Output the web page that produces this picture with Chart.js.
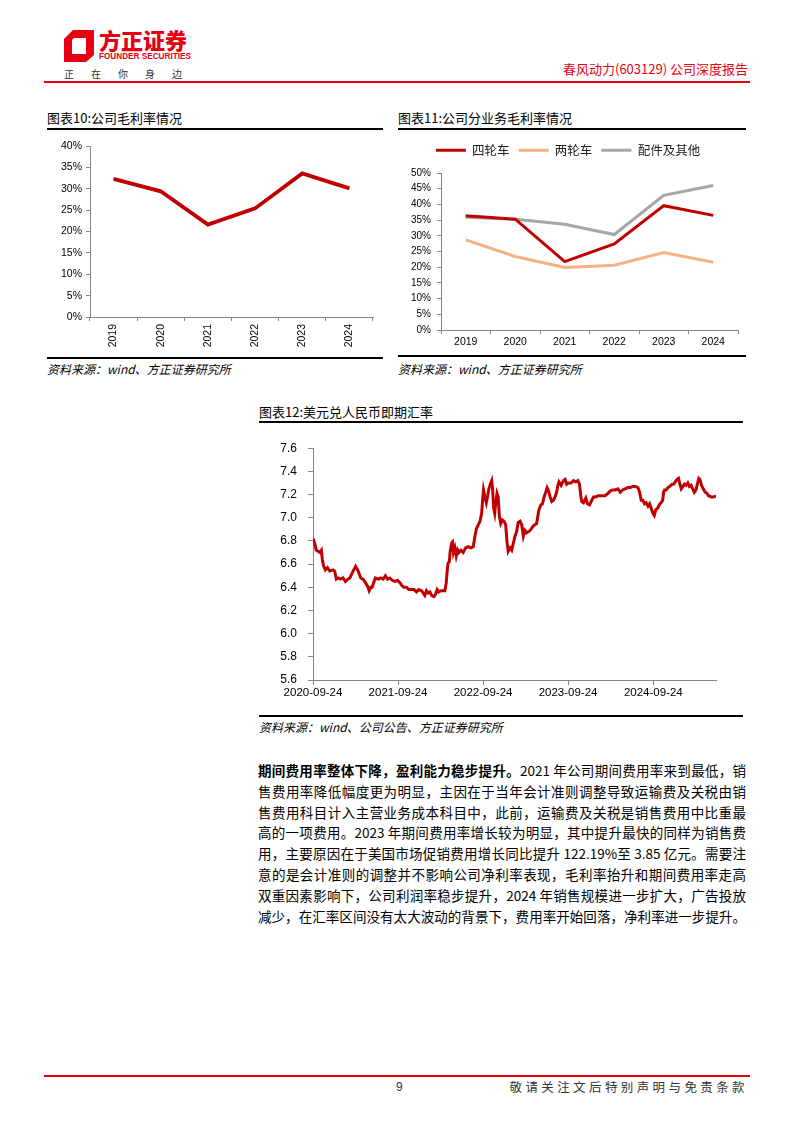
<!DOCTYPE html>
<html>
<head>
<meta charset="utf-8">
<script src="https://cdn.jsdelivr.net/npm/chart.js@4.4.1/dist/chart.umd.min.js"></script>
<style>
  body { margin: 0; background: #fff; }
  #page { position: relative; width: 794px; height: 1123px; overflow: hidden; font-family: "Noto Sans CJK SC", sans-serif; color: #000; }
  .abs { position: absolute; }
  .title { font-size: 13px; line-height: 18px; white-space: nowrap; }
  .rule { height: 2px; background: #000; }
  .src { font-size: 12px; line-height: 16px; font-style: italic; white-space: nowrap; }
  .para div { height: 20.8px; line-height: 20.8px; font-size: 13.5px; text-align: justify; text-align-last: justify; white-space: nowrap; }
</style>
</head>
<body>
<div id="page">
  <!-- header -->
  <svg class="abs" style="left:64px;top:30px" width="30" height="32" viewBox="0 0 30 32">
    <polygon points="9,0 30,0 30,25 22,32 0,32 0,9" fill="#e60012"/>
    <polygon points="10,8 22,8 22,24 8,24 8,10" fill="#fff"/>
  </svg>
  <div class="abs" style="left:99px;top:27px;font-size:22px;line-height:24px;font-weight:900;color:#e60012;letter-spacing:0px">方正证券</div>
  <div class="abs" style="left:99px;top:52px;font-family:'Liberation Sans';font-size:8.2px;line-height:10px;font-weight:bold;color:#e60012">FOUNDER SECURITIES</div>
  <div class="abs" style="left:64px;top:67px;font-size:10px;line-height:14px;color:#333;letter-spacing:17px;white-space:nowrap">正在你身边</div>
  <div class="abs" style="left:555px;top:61px;width:193px;text-align:right;font-size:13px;line-height:16px;color:#e60012;white-space:nowrap">春风动力(603129) 公司深度报告</div>
  <div class="abs" style="left:44px;top:81px;width:706px;height:1.5px;background:#e60012"></div>

  <!-- chart 10 -->
  <div class="abs title" style="left:47px;top:109px">图表10:公司毛利率情况</div>
  <div class="abs rule" style="left:47px;top:128px;width:336px"></div>
  <div class="abs" style="left:47px;top:135px"><canvas id="marginChart" width="336" height="220"></canvas></div>
  <div class="abs rule" style="left:47px;top:357px;width:336px"></div>
  <div class="abs src" style="left:47px;top:361px">资料来源：wind、方正证券研究所</div>

  <!-- chart 11 -->
  <div class="abs title" style="left:398px;top:109px">图表11:公司分业务毛利率情况</div>
  <div class="abs rule" style="left:398px;top:128px;width:348px"></div>
  <div class="abs" style="left:398px;top:135px"><canvas id="segmentChart" width="348" height="215"></canvas></div>
  <div class="abs rule" style="left:398px;top:355px;width:348px"></div>
  <div class="abs src" style="left:398px;top:361px">资料来源：wind、方正证券研究所</div>

  <!-- chart 12 -->
  <div class="abs title" style="left:259px;top:403px">图表12:美元兑人民币即期汇率</div>
  <div class="abs rule" style="left:259px;top:421px;width:484px"></div>
  <div class="abs" style="left:259px;top:430px"><canvas id="fxChart" width="484" height="282"></canvas></div>
  <div class="abs rule" style="left:259px;top:715px;width:484px"></div>
  <div class="abs src" style="left:259px;top:719px">资料来源：wind、公司公告、方正证券研究所</div>

  <!-- body text -->
  <div class="abs para" style="left:258px;top:760px;width:488px">
    <div><b>期间费用率整体下降，盈利能力稳步提升。</b>2021 年公司期间费用率来到最低，销</div>
    <div>售费用率降低幅度更为明显，主因在于当年会计准则调整导致运输费及关税由销</div>
    <div>售费用科目计入主营业务成本科目中，此前，运输费及关税是销售费用中比重最</div>
    <div>高的一项费用。2023 年期间费用率增长较为明显，其中提升最快的同样为销售费</div>
    <div>用，主要原因在于美国市场促销费用增长同比提升 122.19%至 3.85 亿元。需要注</div>
    <div>意的是会计准则的调整并不影响公司净利率表现，毛利率抬升和期间费用率走高</div>
    <div>双重因素影响下，公司利润率稳步提升，2024 年销售规模进一步扩大，广告投放</div>
    <div>减少，在汇率区间没有太大波动的背景下，费用率开始回落，净利率进一步提升。</div>
  </div>

  <!-- footer -->
  <div class="abs" style="left:44px;top:1075px;width:706px;height:1.5px;background:#e60012"></div>
  <div class="abs" style="left:396px;top:1079px;font-family:'Liberation Sans';font-size:12px;line-height:16px;color:#333">9</div>
  <div class="abs" style="left:500px;top:1079px;width:248px;text-align:right;font-size:12.5px;line-height:16px;color:#333;letter-spacing:3.4px;margin-right:-3.4px;white-space:nowrap">敬请关注文后特别声明与免责条款</div>
</div>

<script>
// chart data
const years = ['2019', '2020', '2021', '2022', '2023', '2024'];
const grossMargin = [32.3, 29.4, 21.6, 25.4, 33.6, 30.1];

const segmentNames = ['四轮车', '两轮车', '配件及其他'];
const fourWheel = [36.4, 35.3, 21.8, 27.4, 39.6, 36.5];
const twoWheel = [28.7, 23.4, 19.9, 20.6, 24.7, 21.6];
const partsOther = [35.9, 35.3, 33.7, 30.4, 42.9, 46.0];

// USD/CNY spot, days counted from 2020-09-24
const fxStart = Date.UTC(2020, 8, 24);
const fxTickDays = [0, 365, 730, 1095, 1461];
const fxDays = [0, 7, 14, 22, 29, 36, 40, 46, 53, 62, 72, 86, 93, 100, 108, 119, 129, 139, 150, 158,
  165, 175, 183, 194, 205, 215, 225, 234, 241, 248, 254, 262, 268, 280, 291, 301, 311, 320, 330, 340,
  351, 363, 373, 380, 390, 401, 411, 423, 434, 444, 454, 466, 473, 480, 487, 494, 502, 509, 519, 526,
  533, 540, 549, 559, 566, 572, 576, 580, 585, 589, 595, 599, 603, 609, 615, 621, 626, 635, 645, 655,
  666, 678, 688, 695, 702, 710, 717, 724, 728, 732, 738, 744, 750, 755, 761, 767, 771, 775, 780, 784,
  790, 795, 800, 806, 813, 820, 827, 833, 838, 846, 853, 860, 867, 874, 881, 889, 896, 903, 910, 917,
  924, 932, 939, 946, 953, 960, 965, 970, 978, 985, 992, 999, 1005, 1010, 1018, 1025, 1032, 1039, 1046, 1051,
  1056, 1065, 1075, 1082, 1089, 1096, 1108, 1118, 1128, 1137, 1144, 1150, 1154, 1161, 1171, 1178, 1187, 1194, 1204, 1214,
  1225, 1240, 1254, 1266, 1276, 1286, 1297, 1309, 1319, 1329, 1340, 1352, 1362, 1372, 1383, 1395, 1402, 1409, 1416, 1423,
  1430, 1438, 1445, 1452, 1459, 1465, 1472, 1479, 1486, 1494, 1501, 1505, 1509, 1516, 1524, 1531, 1541, 1548, 1555, 1562,
  1569, 1575, 1581, 1588, 1595, 1602, 1609, 1616, 1623, 1630, 1637, 1644, 1650, 1656, 1661, 1668, 1675, 1684, 1691, 1698,
  1710, 1720, 1730];
const fxRate = [6.82, 6.78, 6.72, 6.71, 6.70, 6.72, 6.64, 6.58, 6.55, 6.57, 6.54, 6.55, 6.54, 6.47, 6.48, 6.47, 6.48, 6.45, 6.47, 6.48,
  6.51, 6.55, 6.58, 6.54, 6.48, 6.47, 6.44, 6.41, 6.37, 6.40, 6.40, 6.45, 6.48, 6.47, 6.48, 6.47, 6.50, 6.47, 6.48, 6.46,
  6.45, 6.46, 6.44, 6.42, 6.40, 6.40, 6.38, 6.38, 6.38, 6.36, 6.38, 6.37, 6.35, 6.33, 6.37, 6.35, 6.36, 6.33, 6.32, 6.34,
  6.38, 6.36, 6.37, 6.37, 6.37, 6.44, 6.54, 6.61, 6.62, 6.71, 6.78, 6.79, 6.70, 6.74, 6.67, 6.72, 6.70, 6.72, 6.70, 6.74,
  6.75, 6.74, 6.75, 6.84, 6.91, 6.94, 6.97, 7.04, 7.15, 7.24, 7.18, 7.13, 7.19, 7.25, 7.29, 7.32, 7.25, 7.09, 7.04, 7.12,
  7.21, 7.18, 7.01, 6.95, 6.98, 6.97, 6.94, 6.79, 6.71, 6.74, 6.72, 6.78, 6.84, 6.88, 6.96, 6.97, 6.94, 6.84, 6.89, 6.87,
  6.88, 6.89, 6.91, 6.93, 6.94, 6.95, 7.01, 7.07, 7.11, 7.12, 7.18, 7.22, 7.26, 7.24, 7.18, 7.14, 7.15, 7.18, 7.22, 7.28,
  7.31, 7.28, 7.32, 7.33, 7.29, 7.30, 7.30, 7.32, 7.31, 7.32, 7.29, 7.18, 7.14, 7.13, 7.17, 7.12, 7.11, 7.14, 7.18, 7.18,
  7.19, 7.19, 7.19, 7.21, 7.23, 7.24, 7.24, 7.25, 7.22, 7.24, 7.25, 7.26, 7.26, 7.27, 7.27, 7.26, 7.22, 7.15, 7.15, 7.12,
  7.13, 7.10, 7.12, 7.08, 7.04, 7.02, 7.07, 7.08, 7.11, 7.13, 7.15, 7.22, 7.24, 7.24, 7.26, 7.27, 7.29, 7.29, 7.31, 7.33,
  7.34, 7.29, 7.25, 7.27, 7.29, 7.28, 7.30, 7.27, 7.28, 7.25, 7.22, 7.24, 7.29, 7.34, 7.33, 7.28, 7.25, 7.22, 7.21, 7.19,
  7.18, 7.18, 7.19];

const red = '#c00000';
const axisGray = '#868686';
Chart.defaults.font.family = "'Liberation Sans', Arial, sans-serif";
Chart.defaults.color = '#000';

// fixed axis sizes so the plot areas line up with the page layout
const fixWidth = w => scale => { scale.width = w; };
const fixHeight = h => scale => { scale.height = h; };

// 图表10 公司毛利率
new Chart(document.getElementById('marginChart'), {
    type: 'line',
    data: {
        labels: years,
        datasets: [{ data: grossMargin, borderColor: red, borderWidth: 3.8, pointRadius: 0, tension: 0 }]
    },
    options: {
        responsive: false,
        animation: false,
        layout: { padding: { top: 11, right: 10, left: 0, bottom: 0 } },
        scales: {
            x: {
                offset: true,
                afterFit: fixHeight(38),
                border: { color: axisGray },
                grid: { offset: true, drawOnChartArea: false, tickLength: 4, color: axisGray },
                ticks: { minRotation: 90, maxRotation: 90, padding: 3, font: { size: 10.5 } }
            },
            y: {
                min: 0, max: 40,
                afterFit: fixWidth(43),
                border: { color: axisGray },
                grid: { drawOnChartArea: false, tickLength: 4, color: axisGray },
                ticks: { stepSize: 5, padding: 4, font: { size: 10.5 }, callback: v => v + '%' }
            }
        },
        plugins: { legend: { display: false }, tooltip: { enabled: false } }
    }
});

// 图表11 分业务毛利率
const legendHeight = {
    id: 'legendHeight',
    beforeInit(chart) {
        const fit = chart.legend.fit;
        chart.legend.fit = function () { fit.bind(chart.legend)(); this.height = 38; };
    }
};
new Chart(document.getElementById('segmentChart'), {
    type: 'line',
    data: {
        labels: years,
        datasets: [
            { label: segmentNames[0], data: fourWheel, borderColor: red, backgroundColor: red, borderWidth: 3, pointRadius: 0 },
            { label: segmentNames[1], data: twoWheel, borderColor: '#f4b183', backgroundColor: '#f4b183', borderWidth: 3, pointRadius: 0 },
            { label: segmentNames[2], data: partsOther, borderColor: '#a6a6a6', backgroundColor: '#a6a6a6', borderWidth: 3, pointRadius: 0 }
        ]
    },
    options: {
        responsive: false,
        animation: false,
        layout: { padding: { top: 0, right: 8, left: 0, bottom: 0 } },
        scales: {
            x: {
                offset: true,
                afterFit: fixHeight(20),
                border: { color: axisGray },
                grid: { offset: true, drawOnChartArea: false, tickLength: 4, color: axisGray },
                ticks: { padding: 2, font: { size: 10.5 } }
            },
            y: {
                min: 0, max: 50,
                afterFit: fixWidth(43),
                border: { color: axisGray },
                grid: { drawOnChartArea: false, tickLength: 4, color: axisGray },
                ticks: { stepSize: 5, padding: 6, font: { size: 10 }, callback: v => v + '%' }
            }
        },
        plugins: {
            legend: {
                labels: {
                    usePointStyle: true, pointStyle: 'line', pointStyleWidth: 30, boxHeight: 12,
                    padding: 9, color: '#222',
                    font: { family: "'Noto Sans CJK SC', sans-serif", size: 12.5 }
                }
            },
            tooltip: { enabled: false }
        }
    },
    plugins: [legendHeight]
});

// 图表12 美元兑人民币即期汇率
const dayLabel = d => new Date(fxStart + d * 86400000).toISOString().slice(0, 10);
new Chart(document.getElementById('fxChart'), {
    type: 'line',
    data: {
        datasets: [{
            data: fxDays.map((d, i) => ({ x: d, y: fxRate[i] })),
            borderColor: red, borderWidth: 3, pointRadius: 0, tension: 0
        }]
    },
    options: {
        responsive: false,
        animation: false,
        layout: { padding: { top: 16, right: 27, left: 0, bottom: 0 } },
        scales: {
            x: {
                type: 'linear',
                min: 0, max: fxDays[fxDays.length - 1],
                afterFit: fixHeight(32),
                afterBuildTicks: scale => { scale.ticks = fxTickDays.map(v => ({ value: v })); },
                border: { color: axisGray },
                grid: { drawOnChartArea: false, tickLength: 5, color: axisGray },
                ticks: { autoSkip: false, maxRotation: 0, padding: 1, font: { size: 11.5 }, callback: v => dayLabel(v) }
            },
            y: {
                min: 5.6, max: 7.6,
                afterFit: fixWidth(54),
                border: { color: axisGray },
                grid: { drawOnChartArea: false, tickLength: 5, color: axisGray },
                ticks: { stepSize: 0.2, padding: 11, font: { size: 12 }, callback: v => v.toFixed(1) }
            }
        },
        plugins: { legend: { display: false }, tooltip: { enabled: false } }
    }
});
</script>
</body>
</html>
